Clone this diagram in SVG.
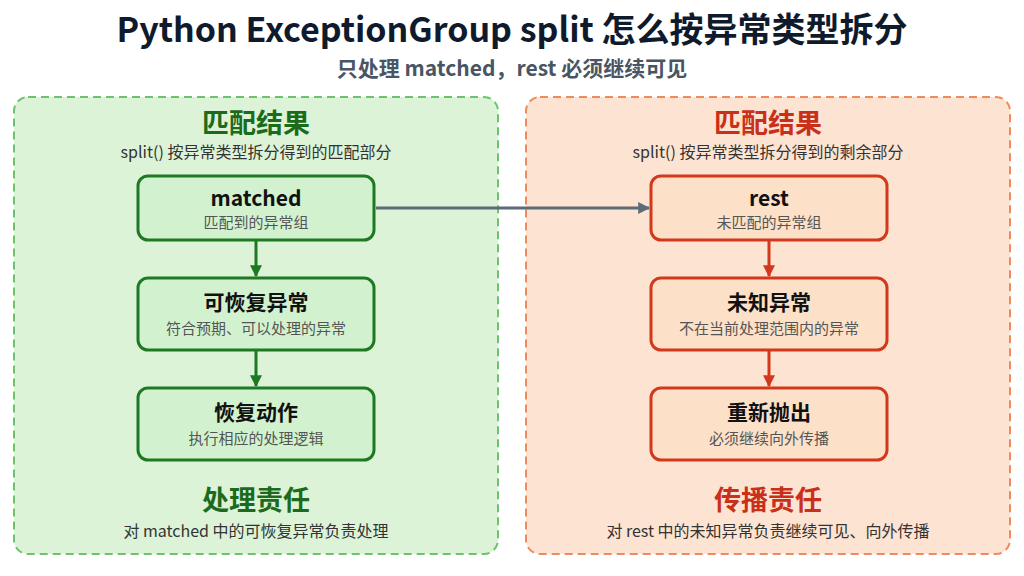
<svg xmlns="http://www.w3.org/2000/svg" width="1024" height="576" viewBox="0 0 1024 576">
<defs>
<style>
text{font-family:"Noto Sans CJK SC","Noto Sans",sans-serif;text-anchor:middle}
.t{font-size:34px;font-weight:bold;fill:#0f1b2d}
.st{font-size:21px;font-weight:bold;fill:#4a5563}
.gh{font-size:27px;font-weight:bold;fill:#1b6b1b}
.oh{font-size:27px;font-weight:bold;fill:#c9301a}
.sub{font-size:16px;fill:#333}
.gn{fill:#d2f2cf;stroke:#1e7a22;stroke-width:3}
.on{fill:#fde0c8;stroke:#d2381c;stroke-width:3}
.nt{font-size:21px;font-weight:bold;fill:#111}
.ns{font-size:15px;fill:#555}
</style>
<marker id="ag" viewBox="0 0 10 10" refX="9" refY="5" markerWidth="4" markerHeight="4" orient="auto"><path d="M0,0L10,5L0,10z" fill="#1e7a22"/></marker>
<marker id="ao" viewBox="0 0 10 10" refX="9" refY="5" markerWidth="4" markerHeight="4" orient="auto"><path d="M0,0L10,5L0,10z" fill="#d2381c"/></marker>
<marker id="ab" viewBox="0 0 10 10" refX="9" refY="5" markerWidth="4" markerHeight="4" orient="auto"><path d="M0,0L10,5L0,10z" fill="#5b6b78"/></marker>
</defs>
<rect width="1024" height="576" fill="#fff"/>
<text x="512" y="42" class="t">Python ExceptionGroup split 怎么按异常类型拆分</text>
<text x="512" y="76" class="st">只处理 matched，rest 必须继续可见</text>
<g id="left-panel">
<rect x="14" y="97" width="484" height="457" rx="14" fill="#dcf3d8" stroke="#6cc36c" stroke-width="2" stroke-dasharray="8 5"/>
<text x="256" y="133" class="gh">匹配结果</text>
<text x="256" y="158" class="sub">split() 按异常类型拆分得到的匹配部分</text>
<text x="256" y="510" class="gh">处理责任</text>
<text x="256" y="537" class="sub">对 matched 中的可恢复异常负责处理</text>
</g>
<g id="right-panel">
<rect x="526" y="97" width="484" height="457" rx="14" fill="#fde3d2" stroke="#ef8a5c" stroke-width="2" stroke-dasharray="8 5"/>
<text x="768" y="133" class="oh">匹配结果</text>
<text x="768" y="158" class="sub">split() 按异常类型拆分得到的剩余部分</text>
<text x="768" y="510" class="oh">传播责任</text>
<text x="768" y="537" class="sub">对 rest 中的未知异常负责继续可见、向外传播</text>
</g>
<g id="matched"><rect x="138" y="176" width="236" height="64" rx="10" class="gn"/><text x="256" y="206" class="nt">matched</text><text x="256" y="228" class="ns">匹配到的异常组</text></g>
<g id="recoverable"><rect x="138" y="278" width="236" height="72" rx="10" class="gn"/><text x="256" y="310" class="nt">可恢复异常</text><text x="256" y="334" class="ns">符合预期、可以处理的异常</text></g>
<g id="recover"><rect x="138" y="388" width="236" height="72" rx="10" class="gn"/><text x="256" y="420" class="nt">恢复动作</text><text x="256" y="444" class="ns">执行相应的处理逻辑</text></g>
<g id="rest"><rect x="651" y="176" width="236" height="64" rx="10" class="on"/><text x="769" y="206" class="nt">rest</text><text x="769" y="228" class="ns">未匹配的异常组</text></g>
<g id="unknown"><rect x="651" y="278" width="236" height="72" rx="10" class="on"/><text x="769" y="310" class="nt">未知异常</text><text x="769" y="334" class="ns">不在当前处理范围内的异常</text></g>
<g id="reraise"><rect x="651" y="388" width="236" height="72" rx="10" class="on"/><text x="769" y="420" class="nt">重新抛出</text><text x="769" y="444" class="ns">必须继续向外传播</text></g>
<g id="connectors" fill="none" stroke-width="3">
<path d="M256 241V276" stroke="#1e7a22" marker-end="url(#ag)"/>
<path d="M256 351V386" stroke="#1e7a22" marker-end="url(#ag)"/>
<path d="M769 241V276" stroke="#d2381c" marker-end="url(#ao)"/>
<path d="M769 351V386" stroke="#d2381c" marker-end="url(#ao)"/>
<path d="M376 208H649" stroke="#5b6b78" marker-end="url(#ab)"/>
</g>
</svg>
